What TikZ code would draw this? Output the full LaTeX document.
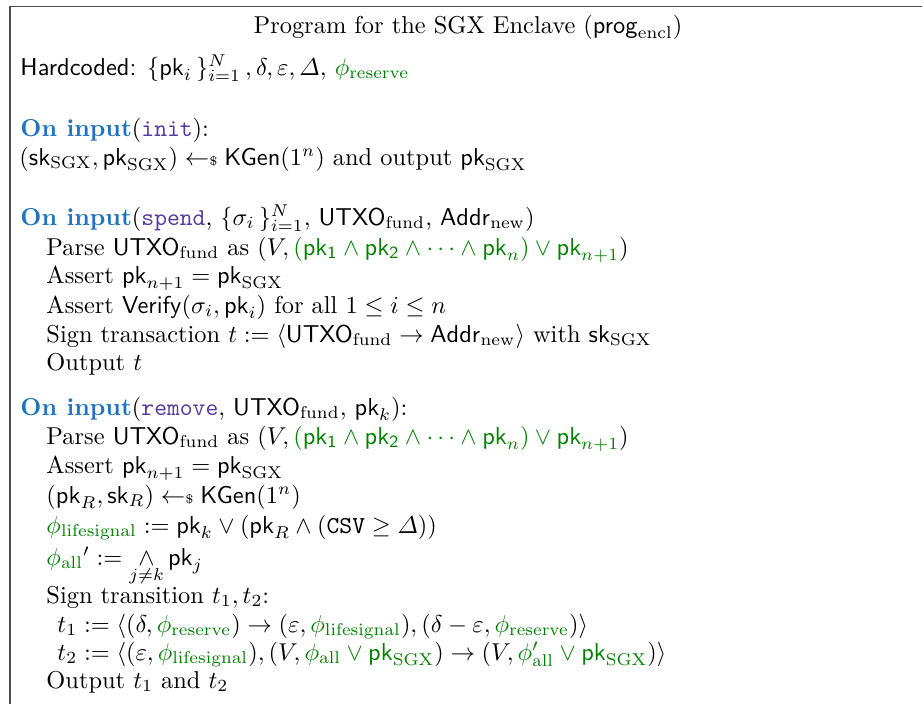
\documentclass[tikz,border=0pt]{standalone}
\usepackage{tikz}
\usepackage{amsmath}
\usepackage{amssymb}
\usepackage{xcolor}
\definecolor{inputblue}{rgb}{0.12, 0.45, 0.75}
\definecolor{cmdpurple}{rgb}{0.33, 0.24, 0.62}
\definecolor{phigreen}{rgb}{0.0, 0.5, 0.0}
\definecolor{framegray}{rgb}{0.3, 0.3, 0.3}
\newcommand{\pk}{\mathsf{pk}}
\newcommand{\sk}{\mathsf{sk}}
\newcommand{\utxofund}{\mathsf{UTXO}_{\mathrm{fund}}}
\newcommand{\getsr}{\mathrel{\leftarrow\mkern-5mu{\scriptscriptstyle\$}}}
\newcommand{\oninput}[1]{\textcolor{inputblue}{\textbf{On input}}(\textcolor{cmdpurple}{\texttt{#1}}}
\newcommand{\gphi}[1]{\textcolor{phigreen}{\phi_{\mathrm{#1}}}}

\begin{document}
\begin{tikzpicture}[x={(0.4098pt,0)},y={(0,-0.4098pt)}]
							\tikzstyle{codeline} = [anchor=base west,inner sep=0pt]
							\tikzstyle{heading} = [anchor=base,inner sep=0pt]
							\tikzstyle{frame} = [draw=framegray,line width=0.6pt]
							\useasboundingbox (0,0) rectangle (922,704);
							% open frame, cut off at right and bottom
							\coordinate (fbot) at (10,704);
							\coordinate (fcorner) at (10,6.5);
							\coordinate (fright) at (930,6.5);
							\draw[frame] (fbot)--(fcorner)--(fright);
							\node[heading] (title) at (468,33) {Program for the SGX Enclave ($\mathsf{prog}_{\mathrm{encl}}$)};
							\node[codeline] (hard) at (20,75) {\textsf{Hardcoded:} $\{\pk_i\,\}_{i=1}^{N}\,,\delta,\varepsilon,\varDelta$, $\gphi{reserve}$};
							% init
							\node[codeline] (i1) at (20,136) {\oninput{init}):};
							\node[codeline] (i2) at (19,165) {$(\sk_{\mathrm{SGX}},\pk_{\mathrm{SGX}})\getsr\mathsf{KGen}(1^n)$ and output $\pk_{\mathrm{SGX}}$};
							% spend
							\node[codeline] (s1) at (20,225) {\oninput{spend}, $\{\sigma_i\,\}_{i=1}^{N}$, $\utxofund$, $\mathsf{Addr}_{\mathrm{new}}$)};
							\node[codeline] (s2) at (46,255) {Parse $\utxofund$ as $(V,\textcolor{phigreen}{(\mathsf{pk_1}\wedge\mathsf{pk_2}\wedge\cdots\wedge\pk_n)\vee\pk_{n+1}})$};
							\node[codeline] (s3) at (46,283) {Assert $\pk_{n+1}=\pk_{\mathrm{SGX}}$};
							\node[codeline] (s4) at (46,313) {Assert $\mathsf{Verify}(\sigma_i,\pk_i)$ for all $1\leq i\leq n$};
							\node[codeline] (s5) at (46,342) {Sign transaction $t:=\langle\utxofund\rightarrow\mathsf{Addr}_{\mathrm{new}}\rangle$ with $\sk_{\mathrm{SGX}}$};
							\node[codeline] (s6) at (46,370) {Output $t$};
							% remove
							\node[codeline] (r1) at (20,415) {\oninput{remove}, $\utxofund$, $\pk_k$):};
							\node[codeline] (r2) at (46,444) {Parse $\utxofund$ as $(V,\textcolor{phigreen}{(\mathsf{pk_1}\wedge\mathsf{pk_2}\wedge\cdots\wedge\pk_n)\vee\pk_{n+1}})$};
							\node[codeline] (r3) at (46,473) {Assert $\pk_{n+1}=\pk_{\mathrm{SGX}}$};
							\node[codeline] (r4) at (46,503) {$(\pk_R,\sk_R)\getsr\mathsf{KGen}(1^n)$};
							\node[codeline] (r5) at (46,533) {$\gphi{lifesignal}:=\pk_k\vee(\pk_R\wedge(\mathtt{CSV}\geq\varDelta))$};
							\node[codeline] (r6) at (46,565) {$\gphi{all}{}':=\mathop{\wedge}\limits_{j\neq k}\pk_j$};
							\node[codeline] (r7) at (46,603) {Sign transition $t_1,t_2$:};
							\node[codeline] (r8) at (57,632) {$t_1:=\langle(\delta,\gphi{reserve})\rightarrow(\varepsilon,\gphi{lifesignal}),(\delta-\varepsilon,\gphi{reserve})\rangle$};
							\node[codeline] (r9) at (57,660) {$t_2:=\langle(\varepsilon,\gphi{lifesignal}),(V,\textcolor{phigreen}{\phi_{\mathrm{all}}\vee\pk_{\mathrm{SGX}}})\rightarrow(V,\textcolor{phigreen}{\phi'_{\mathrm{all}}\vee\pk_{\mathrm{SGX}}})\rangle$};
							\node[codeline] (r10) at (46,688) {Output $t_1$ and $t_2$};
								\end{tikzpicture}
\end{document}
